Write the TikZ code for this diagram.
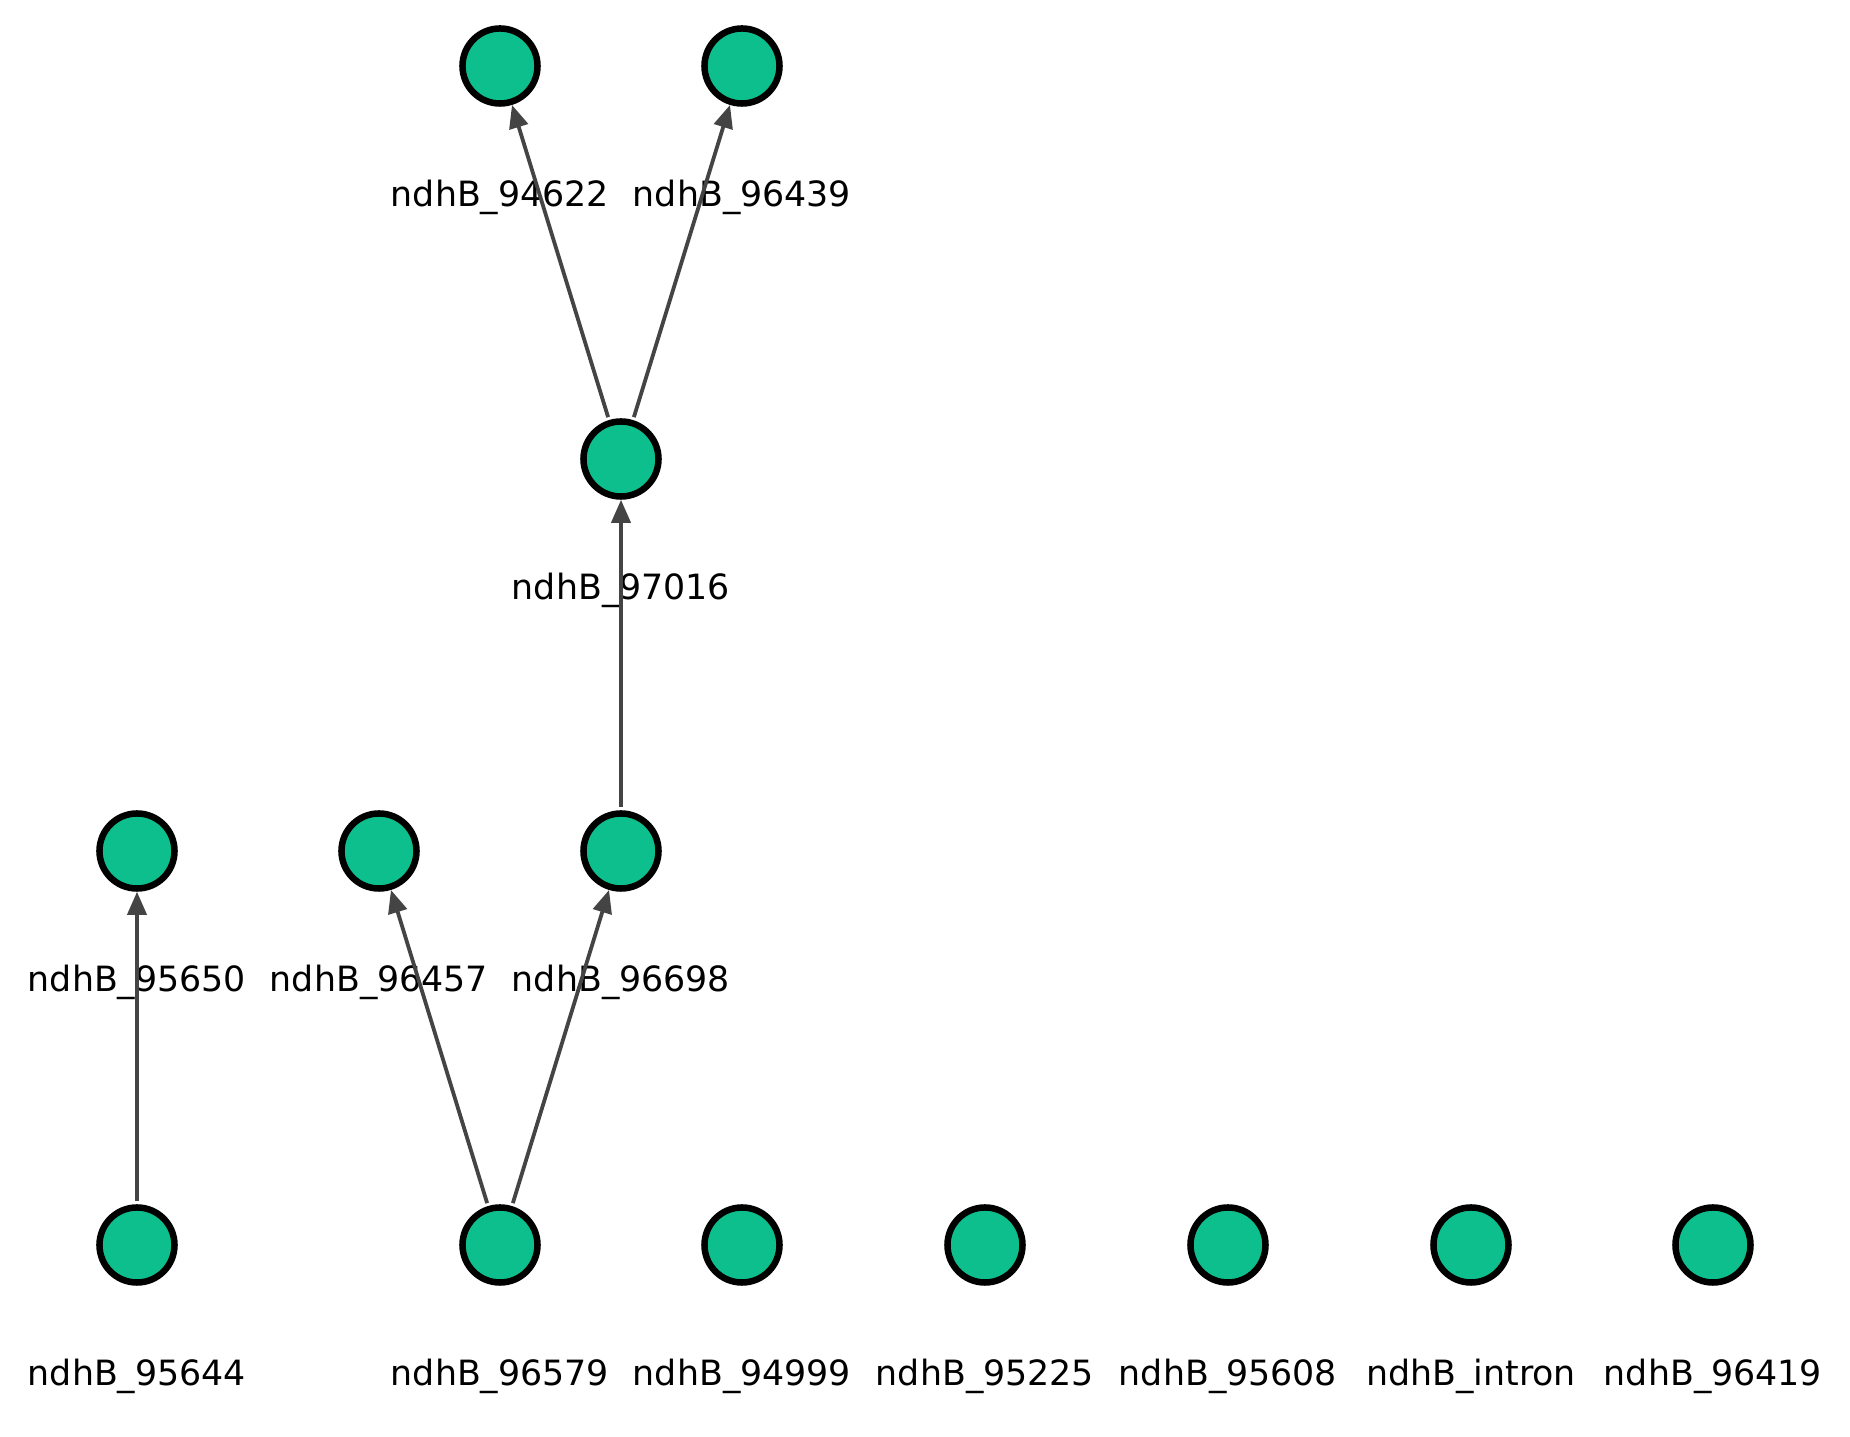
\documentclass[tikz,border=0pt]{standalone}
\usepackage{fontspec}
\setmainfont{DejaVu Sans}
\usetikzlibrary{arrows.meta}
\definecolor{nodegreen}{RGB}{13,191,140}
\definecolor{edgegray}{RGB}{68,68,68}

\begin{document}
\begin{tikzpicture}[x=0.01cm,y=-0.01cm,
  gnode/.style={circle,draw=black,fill=nodegreen,line width=0.65mm,minimum size=7.5mm,inner sep=0pt},
  glabel/.style={font=\fontsize{9.9}{11}\selectfont,inner sep=0pt},
  gedge/.style={edgegray,line width=0.38mm,-{Triangle[length=2.3mm,width=1.9mm]},shorten <=0.3mm}]
\useasboundingbox (0,0) rectangle (1850,1437);
% nodes
\node[gnode] (n94622) at (500,66) {};
\node[gnode] (n96439) at (742,66) {};
\node[gnode] (n97016) at (621,459) {};
\node[gnode] (n95650) at (137,851) {};
\node[gnode] (n96457) at (379,851) {};
\node[gnode] (n96698) at (621,851) {};
\node[gnode] (n95644) at (137,1245) {};
\node[gnode] (n96579) at (500,1245) {};
\node[gnode] (n94999) at (742,1245) {};
\node[gnode] (n95225) at (985,1245) {};
\node[gnode] (n95608) at (1228,1245) {};
\node[gnode] (nintron) at (1471,1245) {};
\node[gnode] (n96419) at (1713,1245) {};
% labels
\node[glabel] (l94622) at (500,197) {ndhB\_94622};
\node[glabel] (l96439) at (742,197) {ndhB\_96439};
\node[glabel] (l97016) at (621,590) {ndhB\_97016};
\node[glabel] (l95650) at (137,982) {ndhB\_95650};
\node[glabel] (l96457) at (379,982) {ndhB\_96457};
\node[glabel] (l96698) at (621,982) {ndhB\_96698};
\node[glabel] (l95644) at (137,1376) {ndhB\_95644};
\node[glabel] (l96579) at (500,1376) {ndhB\_96579};
\node[glabel] (l94999) at (742,1376) {ndhB\_94999};
\node[glabel] (l95225) at (985,1376) {ndhB\_95225};
\node[glabel] (l95608) at (1228,1376) {ndhB\_95608};
\node[glabel] (lintron) at (1471,1376) {ndhB\_intron};
\node[glabel] (l96419) at (1713,1376) {ndhB\_96419};
% edges
\draw[gedge] (n97016) -- (n94622);
\draw[gedge] (n97016) -- (n96439);
\draw[gedge] (n96698) -- (n97016);
\draw[gedge] (n95644) -- (n95650);
\draw[gedge] (n96579) -- (n96457);
\draw[gedge] (n96579) -- (n96698);
\end{tikzpicture}
\end{document}
